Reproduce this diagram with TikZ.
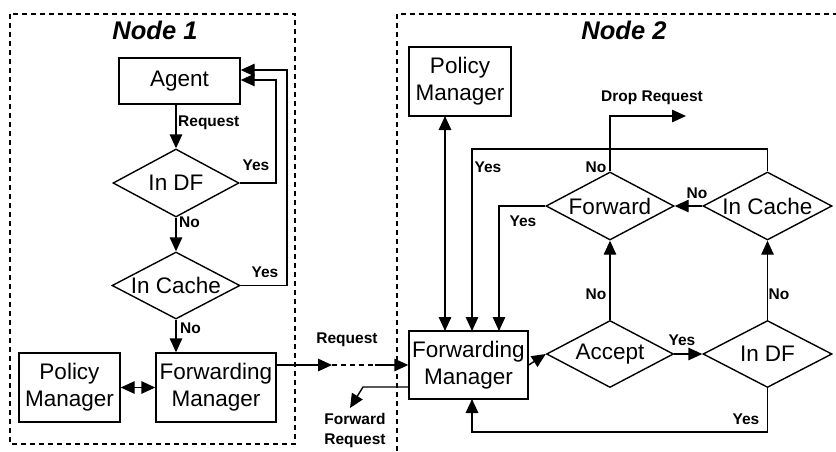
\documentclass[tikz,border=0pt]{standalone}
\usepackage{fontspec}
\setmainfont{Liberation Sans}
\usetikzlibrary{shapes.geometric,arrows.meta,calc}

\tikzset{
  box/.style={draw, line width=1.4pt, rectangle, inner sep=0pt,
    font=\fontsize{22.5}{27}\selectfont, align=center},
  % the label is set in a zero-width box so the diamond takes its size
  % from minimum width and minimum height alone
  decision/.style={draw, line width=1.4pt, diamond, inner sep=0pt,
    shape aspect=2, font=\fontsize{22.5}{27}\selectfont},
  flow/.style={line width=1.4pt, -{Triangle[length=14pt,width=12.5pt]}},
  flowboth/.style={line width=1.4pt, {Triangle[length=14pt,width=12.5pt]}-{Triangle[length=14pt,width=12.5pt]}},
  plain/.style={line width=1.4pt},
  lbl/.style={font=\fontsize{15.5}{19}\selectfont\bfseries, inner sep=0pt, align=center},
  title/.style={font=\fontsize{25.5}{30}\selectfont\bfseries\itshape, inner sep=0pt},
  frame/.style={line width=1.4pt, dash pattern=on 5pt off 4pt}
}
\newcommand{\dtext}[1]{\makebox[0pt]{#1}}

\begin{document}
\begin{tikzpicture}[x=1pt, y=-1pt]
\useasboundingbox (0,0) rectangle (836,451);

% node frames
\draw[frame] (10,14) rectangle (295,444);
\draw[frame] (397,451) -- (397,14) -- (836,14);
\node[title] (t1) at (155,30) {Node 1};
\node[title] (t2) at (624,30) {Node 2};

% ---- Node 1 ----
\node[box, minimum width=121pt, minimum height=46pt] (agent) at (179.5,81) {Agent};
\node[decision, minimum width=126pt, minimum height=68pt] (df1) at (176,183) {\dtext{In DF}};
\node[decision, minimum width=128pt, minimum height=67pt] (cache1) at (176,285.5) {\dtext{In Cache}};
\node[box, minimum width=120pt, minimum height=69pt] (fm1) at (216,387.5) {Forwarding\\Manager};
\node[box, minimum width=101pt, minimum height=69pt] (pm1) at (69.5,387.5) {Policy\\Manager};

\draw[flow] (df1.north |- agent.south) -- (df1.north);
\node[lbl, anchor=west] (l1) at (178,123) {Request};
\draw[flow] (df1.east) -- (276,183) |- ($(agent.east)+(0,-1)$);
\node[lbl] (l2) at (256,165) {Yes};
\draw[flow] (df1.south) -- (cache1.north);
\node[lbl, anchor=west] (l3) at (179,222) {No};
\draw[flow] (cache1.east) -- (287,285.5) |- ($(agent.east)+(0,-11)$);
\node[lbl] (l4) at (265,272) {Yes};
\draw[flow] (cache1.south) -- (cache1.south |- fm1.north);
\node[lbl, anchor=west] (l5) at (180,328) {No};
\draw[flowboth] (pm1.east) -- (fm1.east -| fm1.west);

% ---- Node 2 ----
\node[box, minimum width=102pt, minimum height=69pt] (pm2) at (460,81.5) {Policy\\Manager};
\node[box, minimum width=119pt, minimum height=68pt] (fm2) at (468.5,365) {Forwarding\\Manager};
\node[decision, minimum width=128pt, minimum height=68pt] (fwd) at (610,206) {\dtext{Forward}};
\node[decision, minimum width=129pt, minimum height=68pt] (cache2) at (767.5,206) {\dtext{In Cache}};
\node[decision, minimum width=127pt, minimum height=67pt] (accept) at (610,354) {\dtext{Accept}};
\node[decision, minimum width=129pt, minimum height=67pt] (df2) at (767.5,354) {\dtext{In DF}};

% request passed between the nodes
\coordinate (mid) at (332,365);
\coordinate (gap) at (375,365);
\draw[flow] ($(fm1.east)+(0,-22.5)$) -- (mid);
\draw[plain, dash pattern=on 5pt off 4pt] (mid) -- (gap);
\draw[flow] (gap) -- (fm2.west);
\node[lbl] (l6) at (347,340) {Request};
\coordinate (fwdout) at (350,408);
\draw[flow] ($(fm2.west)+(0,22)$) -- (363,387) -- (fwdout);
\node[lbl] (l7) at (355,430) {Forward\\[1pt]Request};

% forwarding manager and policy manager
\draw[flowboth] (445,116) -- (445,331);

\draw[flow] (fm2.east) -- (accept.west);
\draw[flow] (accept.east) -- (df2.west);
\node[lbl] (l8) at (682,340) {Yes};
\draw[flow] (accept.north) -- (fwd.south);
\node[lbl] (l9) at (596,294) {No};
\draw[flow] (df2.north) -- (cache2.south);
\node[lbl] (l10) at (779,294) {No};
\draw[flow] (df2.south) -- (767.5,432) -| (472,399);
\node[lbl] (l11) at (746,419) {Yes};

\draw[flow] (cache2.west) -- (fwd.east);
\node[lbl] (l12) at (697,193) {No};
\draw[flow] (cache2.north) -- (767.5,149) -| (472,331);
\node[lbl] (l13) at (488,167) {Yes};
\draw[flow] (fwd.west) -- (499,206) -- (499,331);
\node[lbl] (l14) at (523,221) {Yes};

\coordinate (drop) at (686,116);
\draw[flow] (fwd.north) -- (610,116) -- (drop);
\node[lbl] (l15) at (652,98) {Drop Request};
\node[lbl] (l16) at (596,167) {No};
\end{tikzpicture}
\end{document}
